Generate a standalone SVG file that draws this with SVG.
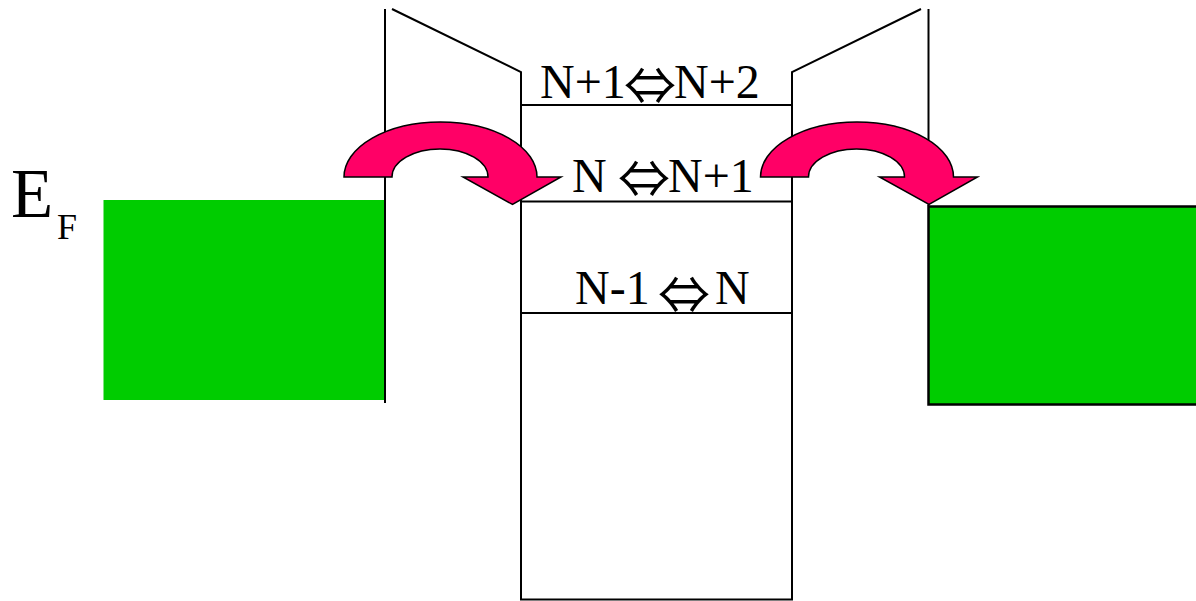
<svg xmlns="http://www.w3.org/2000/svg" width="1196" height="601" viewBox="0 0 1196 601">
<style>
.ln{stroke:#000;stroke-width:2;fill:none}
.arrow{fill:#FF0066;stroke:#000;stroke-width:1.5;stroke-linejoin:miter}
.lbl{font-family:"Liberation Serif","Times New Roman",serif;font-size:48px;fill:#000}
.iff{font-family:"Noto Sans CJK JP","Liberation Serif",sans-serif;font-size:52px;text-anchor:middle}
.st{text-anchor:start}
</style>
<rect width="1196" height="601" fill="#fff"/>
<g id="left-electrode">
<rect x="103.5" y="200" width="281" height="200" fill="#00CC00"/>
</g>
<g id="right-electrode">
<rect x="928.5" y="206.5" width="270" height="198" fill="#00CC00" stroke="#000" stroke-width="2.5"/>
</g>
<g id="island">
<path class="ln" d="M385,9 V403"/>
<path class="ln" d="M392,9 L521,72 V599.5 H792 V72 L921,9"/>
<path class="ln" d="M928.5,9 V206"/>
<path class="ln" d="M521,105 H792 M521,201.5 H792 M521,313 H792"/>
</g>
<g id="labels">
<text class="lbl" x="540" y="98">N+1<tspan class="iff" x="650" y="105">⇔</tspan><tspan class="st" x="674" y="98">N+2</tspan></text>
<text class="lbl" x="572" y="191.5">N <tspan class="iff" x="644" y="198">⇔</tspan><tspan class="st" x="668" y="191.5">N+1</tspan></text>
<text class="lbl" x="575" y="304">N-1 <tspan class="iff" x="684" y="314">⇔</tspan><tspan class="st" x="715" y="304">N</tspan></text>
<text font-family="Liberation Serif, serif" font-size="69" x="11" y="217">E<tspan font-size="36" x="57" y="238.5">F</tspan></text>
</g>
<g id="connectors">
<path class="arrow" d="M344,177 A96.5,55 0 0 1 537,177 L561,177 L512.5,204.5 L463,177 L488,177 A48,28 0 0 0 392,177 Z"/>
<path class="arrow" d="M760.5,177 A96.5,55 0 0 1 953.5,177 L977.5,177 L929,204.5 L879.5,177 L904.5,177 A48,28 0 0 0 808.5,177 Z"/>
</g>
</svg>
